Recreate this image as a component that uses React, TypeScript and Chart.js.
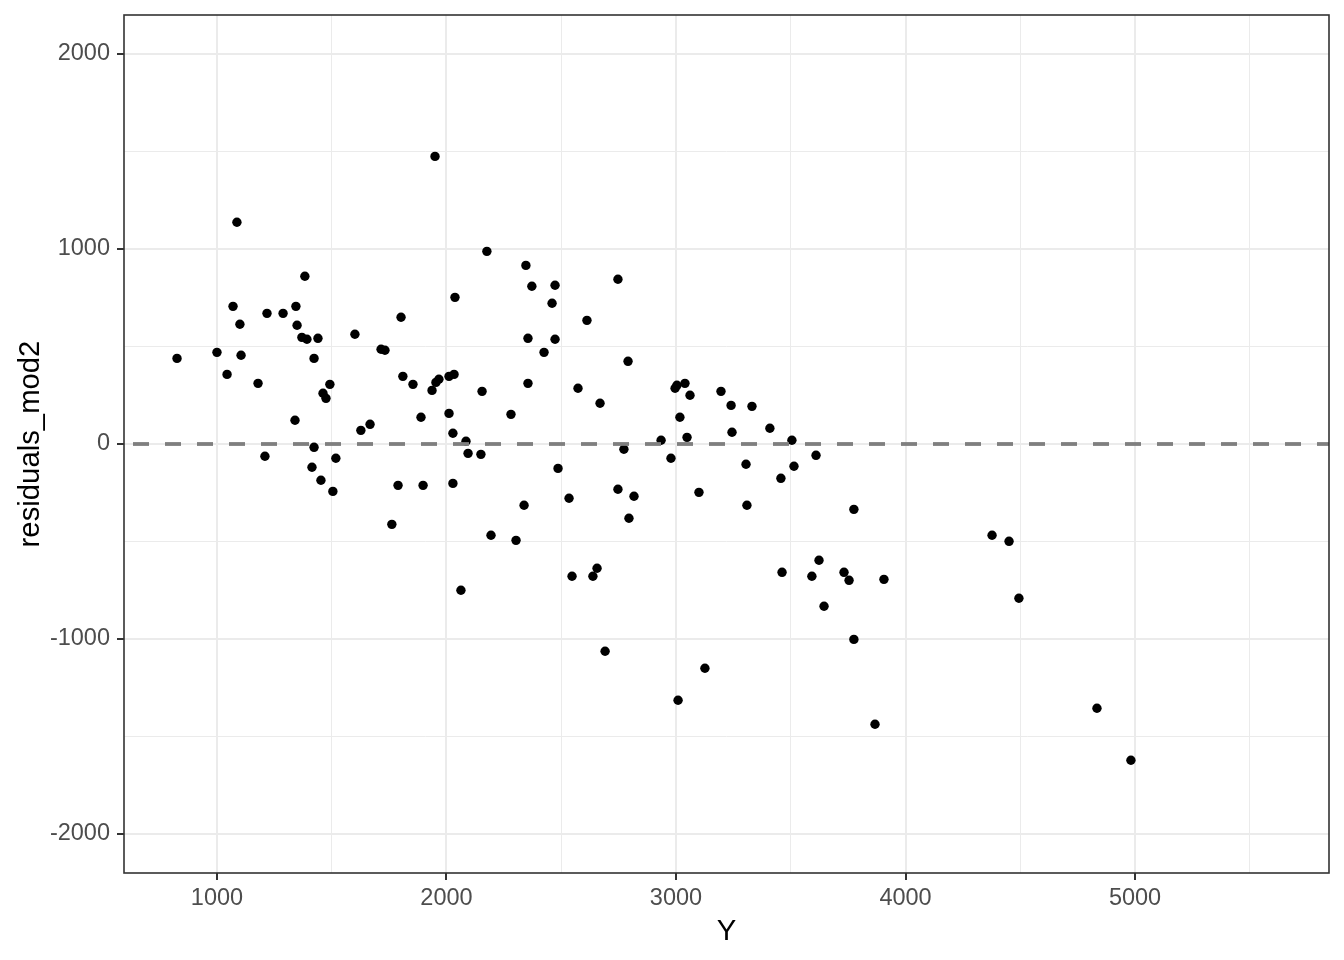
import React, { useEffect, useRef } from "react";
import { Chart, registerables } from "chart.js";

Chart.register(...registerables);

// fitted Y values (x axis)
const xValues = [
  826, 1000, 1044, 1070, 1087, 1100, 1105, 1179, 1209, 1218,
  1288, 1340, 1344, 1349, 1370, 1383, 1392, 1414, 1423, 1423,
  1440, 1453, 1462, 1475, 1492, 1505, 1518, 1601, 1627, 1667,
  1715, 1732, 1762, 1789, 1802, 1810, 1854, 1889, 1898, 1950,
  1937, 1954, 1967, 2011, 2033, 2011, 2028, 2028, 2037, 2063,
  2085, 2094, 2150, 2155, 2176, 2194, 2281, 2303, 2338, 2346,
  2355, 2355, 2372, 2425, 2460, 2473, 2473, 2486, 2534, 2547,
  2573, 2612, 2638, 2656, 2669, 2691, 2747, 2747, 2773, 2791,
  2795, 2817, 2935, 2978, 2996, 3004, 3009, 3017, 3039, 3048,
  3061, 3100, 3126, 3196, 3240, 3244, 3305, 3309, 3331, 3409,
  3457, 3462, 3505, 3514, 3592, 3610, 3623, 3645, 3732, 3754,
  3775, 3775, 3867, 3906, 4377, 4451, 4494, 4834, 4982,
];

// residuals_mod2 (y axis)
const yValues = [
  439, 470, 357, 706, 1137, 614, 455, 311, -63, 670,
  670, 122, 706, 609, 547, 860, 537, -119, 439, -17,
  542, -186, 260, 234, 306, -243, -73, 563, 70, 101,
  486, 481, -412, -212, 650, 347, 306, 137, -212, 1475,
  275, 316, 332, 347, 357, 157, 55, -202, 752, -750,
  14, -48, -53, 270, 988, -468, 152, -494, -314, 916,
  542, 311, 809, 470, 722, 814, 537, -125, -278, -678,
  286, 634, -678, -637, 209, -1063, 845, -232, -27, 424,
  -381, -268, 19, -73, 286, 301, -1314, 137, 311, 34,
  250, -248, -1150, 270, 198, 60, -104, -314, 193, 81,
  -176, -658, 19, -114, -678, -58, -596, -832, -658, -699,
  -335, -1002, -1437, -694, -468, -499, -791, -1355, -1622,
];

const xMajorTicks = [1000, 2000, 3000, 4000, 5000];
const xMinorTicks = [1500, 2500, 3500, 4500, 5500];
const yMajorTicks = [-2000, -1000, 0, 1000, 2000];
const yMinorTicks = [-1500, -500, 500, 1500];
const xLimits = [595, 5845];
const yLimits = [-2200, 2200];
const referenceY = 0;

const xTitle = "Y";
const yTitle = "residuals_mod2";

const FONT = 'Arial, "Liberation Sans", sans-serif';

const panelBorder = {
  id: "panelBorder",
  afterDraw(chart: any) {
    const { ctx, chartArea } = chart;
    const { left, top, right, bottom } = chartArea;
    ctx.save();
    ctx.strokeStyle = "#333333";
    ctx.lineWidth = 1.6;
    ctx.strokeRect(left, top, right - left, bottom - top);
    ctx.restore();
  },
};

export default function App() {
  const canvasRef = useRef<HTMLCanvasElement | null>(null);

  useEffect(() => {
    if (!canvasRef.current) return;
    const points = xValues.map((x, i) => ({ x, y: yValues[i] }));
    const isMajor = (v: number, majors: number[]) => majors.includes(v);

    const chart = new Chart(canvasRef.current, {
      type: "scatter",
      data: {
        datasets: [
          {
            type: "line",
            data: [
              { x: xLimits[0], y: referenceY },
              { x: xLimits[1], y: referenceY },
            ],
            borderColor: "#7F7F7F",
            borderWidth: 3.8,
            borderDash: [16, 16],
            borderDashOffset: 23,
            pointRadius: 0,
            fill: false,
          } as any,
          {
            data: points,
            backgroundColor: "#000000",
            borderWidth: 0,
            pointRadius: 4.7,
            pointHoverRadius: 4.7,
          },
        ],
      },
      options: {
        animation: false,
        responsive: false,
        devicePixelRatio: 1,
        layout: { padding: { top: 15, right: 15, left: 0, bottom: 0 } },
        plugins: {
          legend: { display: false },
          tooltip: { enabled: false },
        },
        scales: {
          x: {
            type: "linear",
            min: xLimits[0],
            max: xLimits[1],
            afterBuildTicks: (axis: any) => {
              axis.ticks = [...xMajorTicks, ...xMinorTicks]
                .sort((a, b) => a - b)
                .map((v) => ({ value: v }));
            },
            afterFit: (scale: any) => {
              scale.height = 87;
              scale.paddingLeft = 0;
              scale.paddingRight = 0;
            },
            border: { display: false },
            grid: {
              color: "#EBEBEB",
              lineWidth: (c: any) => (isMajor(c.tick?.value, xMajorTicks) ? 2 : 1),
              drawTicks: true,
              tickLength: 7,
              tickWidth: 2,
              tickColor: (c: any) =>
                isMajor(c.tick?.value, xMajorTicks) ? "#333333" : "rgba(0,0,0,0)",
            },
            ticks: {
              padding: 4,
              color: "#4D4D4D",
              font: { family: FONT, size: 23.5 },
              maxRotation: 0,
              autoSkip: false,
              callback: (v: any) => (xMajorTicks.includes(Number(v)) ? String(v) : ""),
            },
            title: {
              display: true,
              text: xTitle,
              color: "#000000",
              font: { family: FONT, size: 29.3 },
              padding: { top: 0, bottom: 11 },
            },
          },
          y: {
            type: "linear",
            min: yLimits[0],
            max: yLimits[1],
            afterBuildTicks: (axis: any) => {
              axis.ticks = [...yMajorTicks, ...yMinorTicks]
                .sort((a, b) => a - b)
                .map((v) => ({ value: v }));
            },
            afterFit: (scale: any) => {
              scale.width = 124;
              scale.paddingTop = 0;
              scale.paddingBottom = 0;
            },
            border: { display: false },
            grid: {
              color: "#EBEBEB",
              lineWidth: (c: any) => (isMajor(c.tick?.value, yMajorTicks) ? 2 : 1),
              drawTicks: true,
              tickLength: 7,
              tickWidth: 2,
              tickColor: (c: any) =>
                isMajor(c.tick?.value, yMajorTicks) ? "#333333" : "rgba(0,0,0,0)",
            },
            ticks: {
              padding: 7,
              color: "#4D4D4D",
              font: { family: FONT, size: 23.5 },
              autoSkip: false,
              callback: (v: any) => (yMajorTicks.includes(Number(v)) ? String(v) : ""),
            },
            title: {
              display: true,
              text: yTitle,
              color: "#000000",
              font: { family: FONT, size: 29.3 },
              padding: { top: 13, bottom: 0 },
            },
          },
        },
      },
      plugins: [panelBorder],
    } as any);

    return () => chart.destroy();
  }, []);

  return (
    <div
      style={{
        position: "absolute",
        left: 0,
        top: 0,
        width: 1344,
        height: 960,
        background: "#FFFFFF",
      }}
    >
      <canvas ref={canvasRef} width={1344} height={960} style={{ display: "block" }} />
    </div>
  );
}
